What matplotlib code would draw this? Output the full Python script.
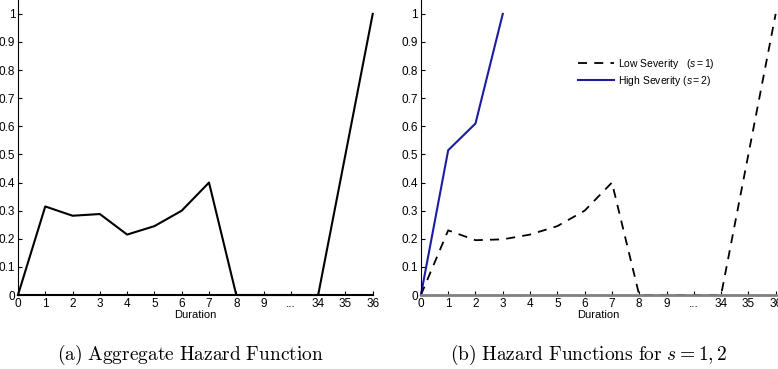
import numpy as np
import matplotlib
matplotlib.use('Agg')
import matplotlib.pyplot as plt

plt.rcParams['font.family'] = ['Liberation Sans', 'DejaVu Sans']
plt.rcParams['mathtext.fontset'] = 'custom'
plt.rcParams['mathtext.rm'] = 'Liberation Sans'
plt.rcParams['mathtext.it'] = 'Liberation Sans:italic'

# duration categories (the "..." stands for the skipped range)
durations = ['0', '1', '2', '3', '4', '5', '6', '7', '8', '9', '...', '34', '35', '36']
yticks = [0, 0.1, 0.2, 0.3, 0.4, 0.5, 0.6, 0.7, 0.8, 0.9, 1]

# aggregate hazard
h_all = [0, 0.315, 0.282, 0.288, 0.215, 0.245, 0.30, 0.40, 0, 0, 0, 0, 0.5, 1.0]
# low severity (s=1)
h_low = [0, 0.23, 0.195, 0.198, 0.215, 0.245, 0.30, 0.40, 0, 0, 0, 0, 0.5, 1.0]
# high severity (s=2), only up to duration 3
h_high = [0, 0.515, 0.61, 1.0]

def style_axes(ax):
    '''common look for both panels'''
    x = np.arange(len(durations))
    ax.set_xticks(x)
    ax.set_xticklabels(durations)
    ax.set_yticks(yticks)
    ax.set_yticklabels([('%g' % v) for v in yticks])
    ax.set_xlim(0, len(durations) - 1)
    ax.set_ylim(0, 1.05)
    ax.spines['top'].set_visible(False)
    ax.spines['right'].set_visible(False)
    ax.tick_params(direction='in', length=3, labelsize=8.5, pad=2)
    ax.set_xlabel('Duration', fontsize=8, labelpad=0)

fig = plt.figure(figsize=(7.78, 3.69), dpi=100)
ax1 = fig.add_axes([0.0231, 0.2005, 0.456, 0.80])
ax2 = fig.add_axes([0.541, 0.2005, 0.456, 0.80])

x = np.arange(len(durations))
ax1.plot(x, h_all, color='black', lw=1.5, clip_on=False)
style_axes(ax1)
ax1.spines['bottom'].set_linewidth(1.5)

ax2.plot(x, h_low, color='black', lw=1.3, ls=(0, (5, 4)), clip_on=False,
         label=r'Low Severity   $\mathit{(s=1)}$')
ax2.plot(x[:len(h_high)], h_high, color='#1c1ca0', lw=1.5, clip_on=False,
         label=r'High Severity $\mathit{(s=2)}$')
style_axes(ax2)
ax2.spines['bottom'].set_color('#808080')
ax2.spines['bottom'].set_linewidth(2)
leg = ax2.legend(loc='upper left', bbox_to_anchor=(0.43, 0.82), frameon=False,
                 fontsize=7.5, handlelength=3.5, handletextpad=0.4,
                 labelspacing=0.25, borderaxespad=0)

fig.text(0.245, 0.025, r'$\mathrm{(a)\ Aggregate\ Hazard\ Function}$',
         ha='center', fontsize=14, math_fontfamily='cm')
fig.text(0.757, 0.025, r'$\mathrm{(b)\ Hazard\ Functions\ for}\ s=1,2$',
         ha='center', fontsize=14, math_fontfamily='cm')

fig.savefig('out.png', dpi=100)
